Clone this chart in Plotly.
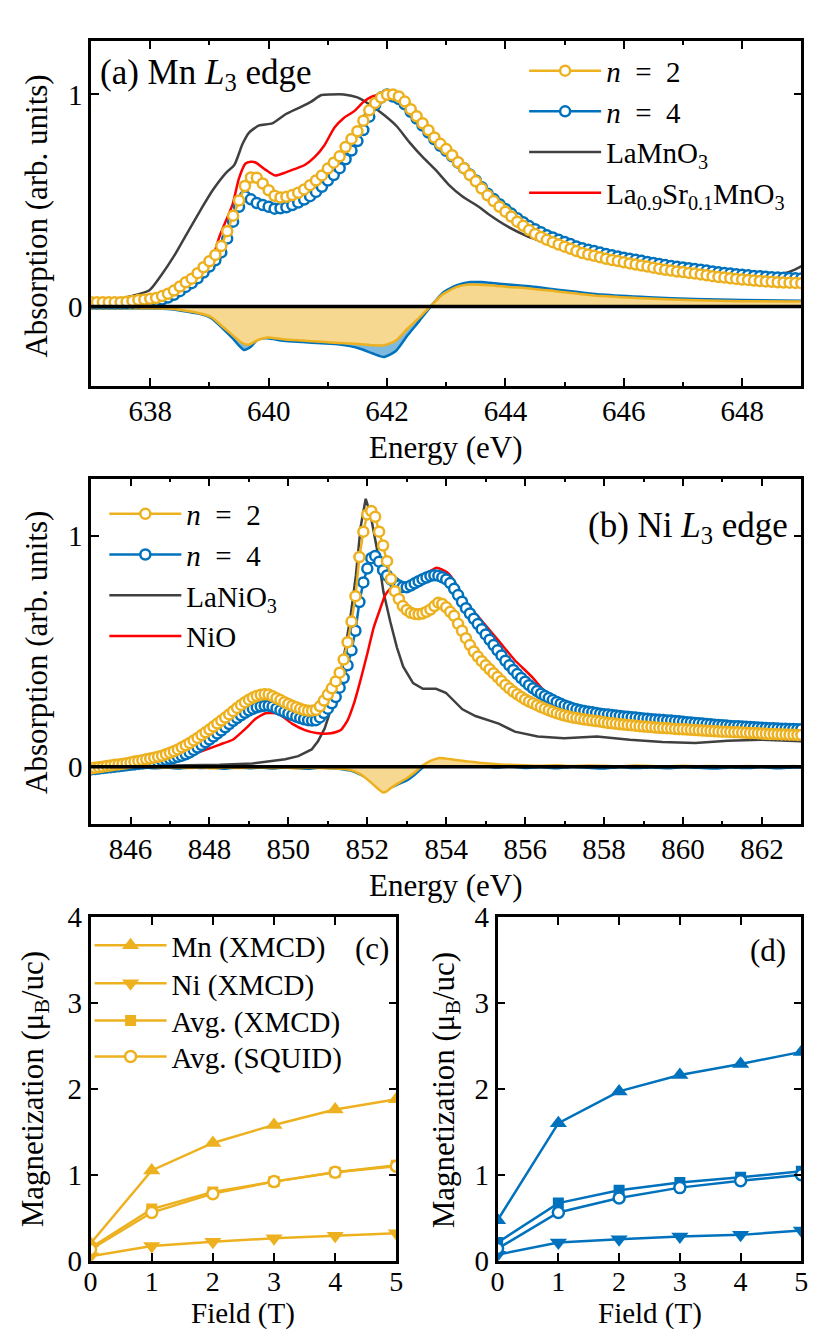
import plotly.graph_objects as go

W, H = 830, 1344
YEL = "#EDB120"
BLU = "#0072BD"
YEL_FILL = "#F6D890"
BLU_FILL = "#80B9DE"
GRAY = "#404040"
RED = "#FF0000"
FONT = "Liberation Serif, DejaVu Serif, Times New Roman, serif"

# (a) Mn L3 edge ------------------------------------------------------------
mn_energy = [round(637 + 0.1 * i, 1) for i in range(121)]
mn_n2 = [0.02, 0.02, 0.02, 0.02, 0.02, 0.02, 0.022, 0.026, 0.03, 0.033,
         0.036, 0.04, 0.049, 0.06, 0.075, 0.094, 0.114, 0.131, 0.157, 0.185,
         0.213, 0.243, 0.285, 0.355, 0.428, 0.50, 0.568, 0.608, 0.607, 0.58,
         0.548, 0.522, 0.514, 0.517, 0.525, 0.536, 0.552, 0.572, 0.594, 0.618,
         0.65, 0.678, 0.708, 0.752, 0.79, 0.826, 0.876, 0.925, 0.96, 0.985,
         0.998, 1.0, 0.99, 0.966, 0.93, 0.897, 0.864, 0.831, 0.797, 0.767,
         0.742, 0.713, 0.68, 0.652, 0.62, 0.59, 0.556, 0.524, 0.497, 0.47,
         0.447, 0.424, 0.40, 0.38, 0.36, 0.342, 0.328, 0.314, 0.303, 0.292,
         0.282, 0.272, 0.261, 0.252, 0.245, 0.239, 0.232, 0.225, 0.219, 0.214,
         0.208, 0.203, 0.198, 0.193, 0.188, 0.183, 0.178, 0.173, 0.169, 0.165,
         0.162, 0.158, 0.155, 0.151, 0.147, 0.143, 0.139, 0.136, 0.133, 0.13,
         0.127, 0.125, 0.122, 0.12, 0.118, 0.116, 0.114, 0.113, 0.112, 0.111,
         0.11]
mn_n4 = [0.015, 0.015, 0.015, 0.015, 0.015, 0.015, 0.016, 0.018, 0.02, 0.022,
         0.024, 0.027, 0.033, 0.042, 0.055, 0.072, 0.092, 0.11, 0.133, 0.16,
         0.188, 0.218, 0.255, 0.32, 0.40, 0.47, 0.52, 0.505, 0.488, 0.478,
         0.47, 0.461, 0.463, 0.468, 0.478, 0.49, 0.504, 0.52, 0.54, 0.564,
         0.594, 0.62, 0.652, 0.694, 0.735, 0.78, 0.832, 0.895, 0.95, 0.985,
         1.0, 0.99, 0.978, 0.953, 0.918, 0.886, 0.853, 0.82, 0.788, 0.758,
         0.734, 0.708, 0.678, 0.652, 0.622, 0.594, 0.562, 0.532, 0.507, 0.482,
         0.46, 0.438, 0.416, 0.397, 0.379, 0.364, 0.35, 0.336, 0.325, 0.314,
         0.304, 0.294, 0.283, 0.274, 0.267, 0.261, 0.254, 0.247, 0.241, 0.236,
         0.23, 0.225, 0.22, 0.215, 0.21, 0.205, 0.2, 0.195, 0.191, 0.187,
         0.184, 0.18, 0.177, 0.173, 0.169, 0.165, 0.161, 0.158, 0.155, 0.152,
         0.149, 0.147, 0.144, 0.142, 0.14, 0.138, 0.136, 0.135, 0.134, 0.133,
         0.132]

lamno3_energy = [637.0, 637.3, 637.62, 637.98, 638.18, 638.4, 638.62, 638.84, 639.06, 639.28,
                 639.42, 639.56, 639.67, 639.84, 640.06, 640.28, 640.5, 640.72, 640.89, 641.05,
                 641.27, 641.5, 641.72, 641.94, 642.16, 642.38, 642.6, 642.82, 643.04, 643.27,
                 643.55, 643.71, 644.05, 644.38, 644.7, 645.0, 645.5, 646.0, 646.5, 647.0,
                 647.5, 648.0, 648.4, 648.7, 648.9, 649.0]
lamno3 = [0.018, 0.025, 0.045, 0.075, 0.145, 0.237, 0.344, 0.45, 0.55, 0.63,
          0.667, 0.767, 0.82, 0.854, 0.863, 0.905, 0.935, 0.966, 0.997, 1.0,
          1.0, 0.986, 0.95, 0.905, 0.851, 0.774, 0.705, 0.644, 0.575, 0.52,
          0.47, 0.436, 0.375, 0.33, 0.3, 0.275, 0.24, 0.21, 0.19, 0.17,
          0.155, 0.145, 0.145, 0.155, 0.175, 0.19]

lsmo_energy = [637.0, 637.5, 638.0, 638.3, 638.6, 638.9, 639.06, 639.17, 639.28, 639.39,
               639.5, 639.61, 639.7, 639.78, 639.95, 640.11, 640.28, 640.44, 640.61, 640.78,
               640.94, 641.11, 641.27, 641.44, 641.61, 641.75, 641.95, 642.2, 642.5, 642.8,
               643.1, 643.5, 644.0, 644.5, 645.0, 645.5, 646.0, 646.5, 647.0, 647.5,
               648.0, 648.5, 649.0]
lsmo = [0.015, 0.016, 0.025, 0.045, 0.095, 0.165, 0.237, 0.33, 0.405, 0.48,
        0.605, 0.674, 0.682, 0.679, 0.644, 0.617, 0.631, 0.648, 0.667, 0.705,
        0.759, 0.843, 0.889, 0.92, 0.966, 0.99, 1.0, 0.975, 0.885, 0.785,
        0.705, 0.593, 0.458, 0.36, 0.298, 0.256, 0.225, 0.2, 0.179, 0.16,
        0.144, 0.133, 0.128]

mn_xmcd_n2_energy = [637.0, 637.5, 638.0, 638.3, 638.52, 638.83, 639.03, 639.23, 639.39, 639.54,
                     639.66, 639.82, 639.98, 640.25, 640.57, 640.89, 641.2, 641.52, 641.76, 641.95,
                     642.15, 642.35, 642.55, 642.74, 642.94, 643.18, 643.41, 643.73, 644.05, 644.44,
                     644.84, 645.23, 645.63, 646.42, 647.2, 648.0, 649.0]
mn_xmcd_n2 = [-0.008, -0.008, -0.008, -0.01, -0.017, -0.032, -0.05, -0.097, -0.135, -0.17,
              -0.181, -0.158, -0.146, -0.155, -0.161, -0.167, -0.172, -0.177, -0.183, -0.183,
              -0.161, -0.104, -0.051, 0.003, 0.057, 0.092, 0.103, 0.1, 0.092, 0.084,
              0.072, 0.06, 0.049, 0.037, 0.029, 0.025, 0.023]
mn_xmcd_n4_energy = [637.0, 637.5, 638.0, 638.3, 638.52, 638.83, 639.03, 639.23, 639.39, 639.5,
                     639.58, 639.7, 639.82, 639.98, 640.25, 640.57, 640.89, 641.2, 641.52, 641.76,
                     641.95, 642.15, 642.35, 642.55, 642.74, 642.94, 643.18, 643.41, 643.6, 643.73,
                     644.05, 644.44, 644.84, 645.23, 645.63, 646.42, 647.2, 648.0, 649.0]
mn_xmcd_n4 = [-0.01, -0.01, -0.01, -0.012, -0.02, -0.035, -0.055, -0.105, -0.15, -0.185,
              -0.205, -0.19, -0.155, -0.15, -0.162, -0.168, -0.174, -0.18, -0.197, -0.222,
              -0.238, -0.21, -0.135, -0.067, 0.0, 0.064, 0.1, 0.115, 0.115, 0.112,
              0.103, 0.094, 0.08, 0.068, 0.056, 0.043, 0.035, 0.03, 0.027]

# (b) Ni L3 edge ------------------------------------------------------------
ni_energy = [round(845 + 0.1 * i, 1) for i in range(181)]
ni_n2 = [-0.008, -0.005, -0.002, 0.0, 0.003, 0.005, 0.008, 0.01, 0.012, 0.015,
         0.018, 0.022, 0.025, 0.028, 0.032, 0.036, 0.039, 0.043, 0.048, 0.054,
         0.06, 0.067, 0.075, 0.084, 0.093, 0.103, 0.114, 0.125, 0.137, 0.149,
         0.161, 0.174, 0.187, 0.2, 0.213, 0.227, 0.241, 0.255, 0.268, 0.28,
         0.291, 0.30, 0.307, 0.312, 0.314, 0.313, 0.306, 0.297, 0.289, 0.28,
         0.272, 0.265, 0.258, 0.251, 0.246, 0.243, 0.243, 0.246, 0.262, 0.287,
         0.313, 0.34, 0.37, 0.408, 0.465, 0.54, 0.63, 0.74, 0.91, 1.02,
         1.095, 1.11, 1.085, 1.02, 0.96, 0.892, 0.815, 0.762, 0.728, 0.697,
         0.68, 0.668, 0.663, 0.662, 0.665, 0.672, 0.682, 0.697, 0.712, 0.706,
         0.692, 0.672, 0.655, 0.62, 0.59, 0.558, 0.528, 0.5, 0.478, 0.458,
         0.44, 0.423, 0.406, 0.389, 0.372, 0.355, 0.34, 0.326, 0.314, 0.303,
         0.292, 0.283, 0.275, 0.267, 0.259, 0.252, 0.245, 0.238, 0.232, 0.227,
         0.222, 0.218, 0.214, 0.211, 0.208, 0.205, 0.203, 0.2, 0.198, 0.196,
         0.193, 0.19, 0.188, 0.186, 0.184, 0.183, 0.181, 0.18, 0.178, 0.176,
         0.174, 0.173, 0.172, 0.17, 0.169, 0.168, 0.167, 0.166, 0.164, 0.163,
         0.162, 0.161, 0.16, 0.159, 0.158, 0.157, 0.156, 0.155, 0.154, 0.153,
         0.152, 0.152, 0.151, 0.15, 0.149, 0.148, 0.147, 0.146, 0.146, 0.145,
         0.144, 0.143, 0.142, 0.142, 0.141, 0.14, 0.14, 0.139, 0.139, 0.138,
         0.138]
ni_n4 = [-0.012, -0.01, -0.008, -0.006, -0.004, -0.002, 0.0, 0.002, 0.004, 0.006,
         0.008, 0.01, 0.012, 0.014, 0.016, 0.017, 0.019, 0.022, 0.026, 0.03,
         0.034, 0.038, 0.043, 0.048, 0.054, 0.062, 0.072, 0.083, 0.094, 0.106,
         0.118, 0.131, 0.144, 0.157, 0.171, 0.185, 0.199, 0.211, 0.223, 0.234,
         0.244, 0.252, 0.258, 0.262, 0.265, 0.265, 0.261, 0.253, 0.245, 0.238,
         0.231, 0.224, 0.217, 0.211, 0.206, 0.202, 0.2, 0.202, 0.214, 0.233,
         0.252, 0.275, 0.302, 0.343, 0.385, 0.44, 0.505, 0.59, 0.715, 0.8,
         0.86, 0.905, 0.915, 0.89, 0.853, 0.83, 0.812, 0.797, 0.786, 0.78,
         0.779, 0.786, 0.796, 0.805, 0.814, 0.821, 0.828, 0.831, 0.829, 0.822,
         0.813, 0.797, 0.772, 0.745, 0.716, 0.688, 0.665, 0.642, 0.619, 0.597,
         0.574, 0.551, 0.528, 0.505, 0.483, 0.46, 0.44, 0.42, 0.402, 0.385,
         0.369, 0.354, 0.34, 0.328, 0.317, 0.307, 0.298, 0.289, 0.281, 0.273,
         0.266, 0.26, 0.254, 0.249, 0.245, 0.242, 0.239, 0.236, 0.233, 0.23,
         0.228, 0.226, 0.224, 0.222, 0.22, 0.218, 0.217, 0.215, 0.213, 0.211,
         0.209, 0.208, 0.206, 0.205, 0.204, 0.203, 0.201, 0.2, 0.198, 0.197,
         0.195, 0.193, 0.192, 0.19, 0.188, 0.187, 0.185, 0.184, 0.182, 0.181,
         0.18, 0.179, 0.177, 0.176, 0.175, 0.174, 0.173, 0.172, 0.171, 0.17,
         0.169, 0.168, 0.167, 0.167, 0.166, 0.165, 0.165, 0.164, 0.164, 0.163,
         0.163]

lanio3_energy = [845.0, 846.0, 847.0, 848.26, 849.09, 849.59, 849.92, 850.25, 850.59, 850.75,
                 850.92, 851.08, 851.25, 851.42, 851.58, 851.71, 851.83, 851.96, 852.08, 852.25,
                 852.41, 852.58, 852.75, 852.91, 853.16, 853.41, 853.74, 853.99, 854.24, 854.41,
                 854.74, 855.33, 855.74, 856.32, 856.99, 857.82, 858.65, 859.48, 860.31, 861.14,
                 861.97, 863.0]
lanio3 = [0.0, 0.002, 0.004, 0.008, 0.014, 0.023, 0.032, 0.046, 0.075, 0.11,
          0.166, 0.251, 0.349, 0.49, 0.659, 0.828, 1.039, 1.163, 1.096, 0.941,
          0.758, 0.631, 0.518, 0.434, 0.363, 0.338, 0.338, 0.321, 0.279, 0.249,
          0.22, 0.187, 0.152, 0.131, 0.124, 0.131, 0.117, 0.107, 0.103, 0.113,
          0.117, 0.11]

nio_energy = [845.0, 846.0, 847.0, 847.68, 848.26, 848.59, 848.92, 849.17, 849.42, 849.75,
              850.09, 850.42, 850.75, 851.08, 851.33, 851.5, 851.67, 851.83, 852.0, 852.16,
              852.33, 852.45, 852.66, 852.9, 853.24, 853.5, 853.74, 853.9, 854.08, 854.32,
              854.5, 854.91, 855.33, 855.74, 856.16, 856.57, 857.0, 857.5, 858.0, 859.0,
              860.0, 861.0, 862.0, 863.0]
nio = [-0.01, 0.005, 0.03, 0.06, 0.096, 0.117, 0.166, 0.208, 0.232, 0.23,
       0.187, 0.159, 0.145, 0.145, 0.159, 0.201, 0.279, 0.377, 0.49, 0.603,
       0.687, 0.744, 0.786, 0.79, 0.814, 0.84, 0.863, 0.855, 0.835, 0.772,
       0.715, 0.631, 0.546, 0.462, 0.392, 0.314, 0.27, 0.245, 0.23, 0.21,
       0.196, 0.18, 0.17, 0.163]

ni_xmcd_energy = [845.0, 845.2, 845.4, 845.6, 845.8, 846.0, 846.3, 846.6, 846.9, 847.2,
                  847.5, 847.8, 848.1, 848.4, 848.7, 849.0, 849.3, 849.6, 849.9, 850.2,
                  850.5, 850.8, 851.1, 851.4, 851.6, 851.8, 852.0, 852.2, 852.3, 852.4,
                  852.5, 852.6, 852.8, 853.0, 853.2, 853.4, 853.6, 853.8, 854.0, 854.2,
                  854.4, 854.6, 854.8, 855.0, 855.3, 855.6, 856.0, 856.4, 856.8, 857.2,
                  857.6, 858.0, 858.4, 858.8, 859.2, 859.6, 860.0, 860.4, 860.8, 861.2,
                  861.6, 862.0, 862.4, 862.8, 863.0]
ni_xmcd_n2 = [-0.015, -0.012, -0.01, -0.007, -0.006, -0.004, -0.003, -0.002, -0.004, -0.003,
              -0.006, -0.004, -0.007, -0.004, -0.006, -0.005, -0.003, -0.006, -0.004, -0.007,
              -0.005, -0.006, -0.008, -0.01, -0.016, -0.03, -0.055, -0.085, -0.1, -0.112,
              -0.106, -0.092, -0.07, -0.05, -0.025, 0.005, 0.025, 0.037, 0.035, 0.03,
              0.026, 0.022, 0.018, 0.015, 0.011, 0.008, 0.006, 0.004, 0.006, 0.003,
              0.005, 0.004, 0.002, 0.005, 0.003, 0.001, 0.004, 0.002, 0.003, 0.001,
              0.003, 0.002, 0.001, 0.003, 0.002]
ni_xmcd_n4 = [-0.012, -0.01, -0.008, -0.006, -0.004, -0.006, -0.003, -0.007, -0.004, -0.008,
              -0.003, -0.006, -0.004, -0.009, -0.003, -0.007, -0.004, -0.008, -0.003, -0.006,
              -0.009, -0.004, -0.007, -0.012, -0.018, -0.032, -0.05, -0.08, -0.095, -0.102,
              -0.1, -0.09, -0.075, -0.06, -0.035, -0.005, 0.018, 0.012, 0.028, 0.02,
              0.016, 0.012, 0.004, 0.002, -0.004, 0.001, -0.006, -0.002, -0.007, -0.001,
              -0.005, -0.008, -0.002, -0.006, -0.003, -0.007, -0.002, -0.005, -0.008, -0.003,
              -0.006, -0.002, -0.007, -0.003, -0.004]

# (c) n = 2 and (d) n = 4 magnetization -------------------------------------
field = [0, 1, 2, 3, 4, 5]
c_mn = [0.2, 1.05, 1.37, 1.58, 1.76, 1.88]
c_ni = [0.05, 0.17, 0.22, 0.26, 0.29, 0.32]
c_avg_xmcd = [0.15, 0.6, 0.8, 0.92, 1.03, 1.11]
c_avg_squid = [0.13, 0.56, 0.78, 0.92, 1.03, 1.1]
d_mn = [0.47, 1.6, 1.97, 2.16, 2.29, 2.43]
d_ni = [0.07, 0.21, 0.25, 0.28, 0.3, 0.35]
d_avg_xmcd = [0.21, 0.67, 0.82, 0.91, 0.97, 1.04]
d_avg_squid = [0.14, 0.56, 0.73, 0.85, 0.93, 1.0]


def px(x):
    return x / W


def py(y):
    return 1 - y / H


fig = go.Figure()

# XMCD difference curves (filled to zero) go under the spectra
for xa, ya, e, v, col, fcol in [
    ("x", "y", mn_xmcd_n4_energy, mn_xmcd_n4, BLU, BLU_FILL),
    ("x", "y", mn_xmcd_n2_energy, mn_xmcd_n2, YEL, YEL_FILL),
    ("x2", "y2", ni_xmcd_energy, ni_xmcd_n4, BLU, BLU_FILL),
    ("x2", "y2", ni_xmcd_energy, ni_xmcd_n2, YEL, YEL_FILL),
]:
    fig.add_trace(go.Scatter(x=e, y=v, xaxis=xa, yaxis=ya, mode="lines", fill="tozeroy",
                             fillcolor=fcol, line=dict(color=col, width=2.5, shape="spline", smoothing=0.6),
                             showlegend=False, hoverinfo="skip"))

# reference spectra
fig.add_trace(go.Scatter(x=lamno3_energy, y=lamno3, mode="lines", name="LaMnO<sub>3</sub>",
                         line=dict(color=GRAY, width=2.5, shape="spline", smoothing=0.6),
                         legend="legend", legendrank=3))
fig.add_trace(go.Scatter(x=lsmo_energy, y=lsmo, mode="lines",
                         name="La<sub>0.9</sub>Sr<sub>0.1</sub>MnO<sub>3</sub>",
                         line=dict(color=RED, width=2.5, shape="spline", smoothing=0.6),
                         legend="legend", legendrank=4))
fig.add_trace(go.Scatter(x=lanio3_energy, y=lanio3, xaxis="x2", yaxis="y2", mode="lines",
                         name="LaNiO<sub>3</sub>", line=dict(color=GRAY, width=2.5),
                         legend="legend2", legendrank=3))
fig.add_trace(go.Scatter(x=nio_energy, y=nio, xaxis="x2", yaxis="y2", mode="lines", name="NiO",
                         line=dict(color=RED, width=2.5, shape="spline", smoothing=0.5),
                         legend="legend2", legendrank=4))

n2_name = "<i>n</i>\u00a0\u00a0=\u00a0\u00a02"
n4_name = "<i>n</i>\u00a0\u00a0=\u00a0\u00a04"


def circles(col):
    return dict(symbol="circle", size=10, color="white", line=dict(color=col, width=2.5))


# film spectra (open circles)
fig.add_trace(go.Scatter(x=mn_energy, y=mn_n4, mode="lines+markers", name=n4_name,
                         line=dict(color=BLU, width=2.5), marker=circles(BLU),
                         legend="legend", legendrank=2))
fig.add_trace(go.Scatter(x=mn_energy, y=mn_n2, mode="lines+markers", name=n2_name,
                         line=dict(color=YEL, width=2.5), marker=circles(YEL),
                         legend="legend", legendrank=1))
fig.add_trace(go.Scatter(x=ni_energy, y=ni_n4, xaxis="x2", yaxis="y2", mode="lines+markers",
                         name=n4_name, line=dict(color=BLU, width=2.5), marker=circles(BLU),
                         legend="legend2", legendrank=2))
fig.add_trace(go.Scatter(x=ni_energy, y=ni_n2, xaxis="x2", yaxis="y2", mode="lines+markers",
                         name=n2_name, line=dict(color=YEL, width=2.5), marker=circles(YEL),
                         legend="legend2", legendrank=1))

# magnetization panels; each legend row of (c) is its own legend so rows sit where the reference has them
mag_series = [
    ("Mn (XMCD)", dict(symbol="triangle-up", size=15), c_mn, d_mn),
    ("Ni (XMCD)", dict(symbol="triangle-down", size=15), c_ni, d_ni),
    ("Avg. (XMCD)", dict(symbol="square", size=11), c_avg_xmcd, d_avg_xmcd),
    ("Avg. (SQUID)", dict(symbol="circle", size=11), c_avg_squid, d_avg_squid),
]
for rank, (name, mk, cv, dv) in enumerate(mag_series):
    for xa, ya, vals, col, show in [("x3", "y3", cv, YEL, True), ("x4", "y4", dv, BLU, False)]:
        m = dict(mk)
        if name == "Avg. (SQUID)":
            m.update(color="white", line=dict(color=col, width=2.5))
        else:
            m.update(color=col, line=dict(color=col, width=0))
        fig.add_trace(go.Scatter(x=field, y=vals, xaxis=xa, yaxis=ya, mode="lines+markers",
                                 name=name, line=dict(color=col, width=2.5), marker=m,
                                 showlegend=show, legend=f"legend{3 + rank}"))

axis_style = dict(showline=True, linewidth=2.5, linecolor="black", mirror="ticks",
                  ticks="inside", ticklen=8, tickwidth=2, tickcolor="black",
                  showgrid=False, zeroline=False, tickfont=dict(size=29))
minor = dict(dtick=1, ticks="inside", ticklen=4, tickwidth=2, tickcolor="black", showgrid=False)

dom_x_top = [px(85.5), px(808)]
fig.update_layout(
    xaxis=dict(axis_style, domain=dom_x_top, anchor="y", range=[637, 649], tick0=638, dtick=2,
               minor=minor, ticklabelstandoff=-3),
    yaxis=dict(axis_style, domain=[py(379), py(26)], anchor="x", range=[-0.375, 1.25], tickvals=[0, 1]),
    xaxis2=dict(axis_style, domain=dom_x_top, anchor="y2", range=[845, 863], tick0=846, dtick=2,
                minor=minor, ticklabelstandoff=-3),
    yaxis2=dict(axis_style, domain=[py(828), py(474)], anchor="x2", range=[-0.25, 1.25], tickvals=[0, 1]),
    xaxis3=dict(axis_style, domain=[px(85), px(396)], anchor="y3", range=[0, 5], dtick=1,
                tickfont=dict(size=28), ticklabelstandoff=-6),
    yaxis3=dict(axis_style, domain=[py(1275), py(923)], anchor="x3", range=[0, 4], dtick=1),
    xaxis4=dict(axis_style, domain=[px(499), px(808)], anchor="y4", range=[0, 5], dtick=1,
                tickfont=dict(size=28), ticklabelstandoff=-6),
    yaxis4=dict(axis_style, domain=[py(1275), py(923)], anchor="x4", range=[0, 4], dtick=1),
)

legend_style = dict(xanchor="left", yanchor="top", bgcolor="rgba(0,0,0,0)",
                    font=dict(size=29), itemwidth=72, tracegroupgap=0)
fig.update_layout(
    legend=dict(legend_style, x=px(526), y=py(30)),
    legend2=dict(legend_style, x=px(99), y=py(484)),
    legend3=dict(legend_style, x=px(84), y=py(926)),
    legend4=dict(legend_style, x=px(84), y=py(965)),
    legend5=dict(legend_style, x=px(84), y=py(1003)),
    legend6=dict(legend_style, x=px(84), y=py(1040)),
)

# thick zero lines of the XMCD panels
for yref in ["y", "y2"]:
    fig.add_shape(type="line", xref=yref.replace("y", "x") + " domain", yref=yref,
                  x0=0, x1=1, y0=0, y1=0, line=dict(color="black", width=3.5), layer="above")


def label(text, x, y, size=31, angle=0, xanchor="center"):
    fig.add_annotation(text=text, x=px(x), y=py(y), xref="paper", yref="paper", showarrow=False,
                       font=dict(size=size), textangle=angle, xanchor=xanchor, yanchor="middle")


label("(a) Mn <i>L</i><sub>3</sub> edge", 93, 60, size=35, xanchor="left")
label("(b) Ni <i>L</i><sub>3</sub> edge", 796, 524, size=35, xanchor="right")
label("(c)", 371, 955, size=31)
label("(d)", 774, 957, size=31)
label("Absorption (arb. units)", 30, 205, angle=-90)
label("Absorption (arb. units)", 30, 652, angle=-90)
label("Energy (eV)", 447, 442)
label("Energy (eV)", 447, 891)
label("Magnetization (μ<sub>B</sub>/uc)", 28, 1100, angle=-90)
label("Magnetization (μ<sub>B</sub>/uc)", 446, 1100, angle=-90)
label("Field (T)", 240, 1329, size=29)
label("Field (T)", 654, 1329, size=29)

fig.update_layout(
    width=W, height=H,
    margin=dict(l=0, r=0, t=0, b=0),
    paper_bgcolor="white", plot_bgcolor="white",
    font=dict(family=FONT, color="black", size=29),
)

# page body margin off so the 830x1344 figure fills the window exactly
fig.write_html("out.html", config={"displayModeBar": False},
               post_script="document.body.style.margin='0px';")
